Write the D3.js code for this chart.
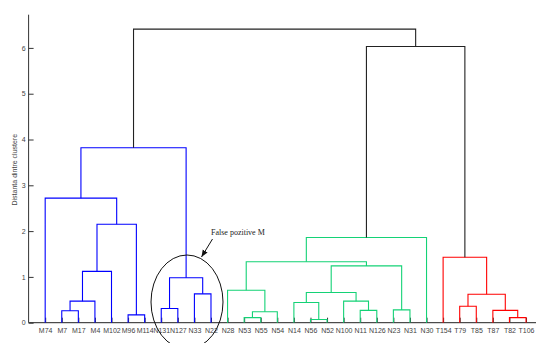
<!DOCTYPE html>
<html>
<head>
<meta charset="utf-8">
<script src="https://cdn.jsdelivr.net/npm/d3@7"></script>
<style>
  html, body { margin: 0; padding: 0; background: #fff; }
  svg { display: block; }
</style>
</head>
<body>
<svg id="chart" width="536" height="343"></svg>
<script>
// Leaf labels, in the order the dendrogram lays them out
const leaves = ["M74","M7","M17","M4","M102","M96","M114","N131","N127","N33","N22",
  "N28","N53","N55","N54","N14","N56","N52","N100","N11","N126","N23","N31","N30",
  "T154","T79","T85","T87","T82","T106"];

// Linkage: each merge joins two nodes (leaf index < 30, else 30 + merge index)
const mergeLeft  = [1, 30, 31, 5, 32, 0, 7, 9, 36, 35, 12, 40, 11, 16, 15, 19, 18, 44, 21, 47, 42, 50, 28, 27, 25, 54, 24, 51, 39];
const mergeRight = [2, 3, 4, 6, 33, 34, 8, 10, 37, 38, 13, 14, 41, 17, 43, 20, 45, 46, 22, 48, 49, 23, 29, 52, 26, 53, 55, 56, 57];
const mergeHeight = [0.26, 0.47, 1.12, 0.17, 2.15, 2.72, 0.31, 0.63, 0.98, 3.82,
  0.11, 0.24, 0.71, 0.07, 0.44, 0.27, 0.47, 0.66, 0.28, 1.24, 1.33, 1.86,
  0.11, 0.27, 0.36, 0.62, 1.43, 6.03, 6.41];

const yTicks = [0, 1, 2, 3, 4, 5, 6];
const clusterColors = ["#0000ff", "#14d276", "#ff0000"];
const colorThreshold = 4.5;
const yLabel = "Distanta dintre clustere";
const noteText = "False pozitive M";

const sans = "'Liberation Sans', Arial, Helvetica, sans-serif";
const serif = "'Liberation Serif', 'Times New Roman', serif";

const svg = d3.select("#chart");
const n = leaves.length;

const x = d3.scaleLinear().domain([0, n + 1]).range([28.6, 542.6]);
const y = d3.scaleLinear().domain([0, 6.725]).range([322.7, 14.7]);

// node positions
const nodeX = [], nodeY = [];
leaves.forEach((d, i) => { nodeX[i] = x(i + 1); nodeY[i] = 0; });
mergeHeight.forEach((h, k) => {
  const id = n + k;
  nodeX[id] = (nodeX[mergeLeft[k]] + nodeX[mergeRight[k]]) / 2;
  nodeY[id] = h;
});

// colour each merge by its cluster root below the threshold
const parent = {};
mergeHeight.forEach((h, k) => { parent[mergeLeft[k]] = n + k; parent[mergeRight[k]] = n + k; });
const roots = [];
mergeHeight.forEach((h, k) => {
  const id = n + k;
  const p = parent[id];
  if (h < colorThreshold && p !== undefined && mergeHeight[p - n] >= colorThreshold) roots.push(id);
});
roots.sort((a, b) => nodeX[a] - nodeX[b]);
const mergeColor = mergeHeight.map((h, k) => {
  let id = n + k;
  if (h >= colorThreshold) return "#222";
  while (!roots.includes(id)) id = parent[id];
  return clusterColors[roots.indexOf(id)];
});

const g = svg.append("g");

// axes
const yAxis = d3.axisLeft(y).tickValues(yTicks).tickSize(-5).tickPadding(3).tickFormat(d3.format("d"));
const ya = svg.append("g").attr("transform", `translate(${x(0)},0)`).call(yAxis);
ya.attr("font-family", sans);
ya.select(".domain").attr("d", `M0,${y(0)}V${y.range()[1]}`).attr("stroke", "#333");
ya.selectAll(".tick line").attr("stroke", "#333");
ya.selectAll(".tick text").attr("font-family", sans).attr("font-size", 7).attr("fill", "#444");

const xAxis = d3.axisBottom(x).tickValues(d3.range(1, n + 1)).tickSize(-5).tickPadding(5)
  .tickFormat(d => leaves[d - 1]);
const xa = svg.append("g").attr("transform", `translate(0,${y(0)})`).call(xAxis);
xa.attr("font-family", sans);
xa.select(".domain").attr("d", `M${x(0)},0H${x(n + 1)}`).attr("stroke", "#222");
xa.selectAll(".tick line").attr("stroke", "#333");
xa.selectAll(".tick text").attr("font-family", sans).attr("font-size", 7).attr("fill", "#444");

// dendrogram links (U shapes)
g.selectAll("path.link")
  .data(mergeHeight.map((h, k) => k))
  .join("path")
  .attr("class", "link")
  .attr("fill", "none")
  .attr("stroke", k => mergeColor[k])
  .attr("stroke-width", 1.1)
  .attr("d", k => {
    const a = mergeLeft[k], b = mergeRight[k];
    return `M${nodeX[a]},${y(nodeY[a])}V${y(mergeHeight[k])}H${nodeX[b]}V${y(nodeY[b])}`;
  });
g.raise();
xa.selectAll(".tick line").raise();

// axis title
svg.append("text")
  .attr("transform", `translate(17,${(y(0) + y.range()[1]) / 2 + 1}) rotate(-90)`)
  .attr("text-anchor", "middle")
  .attr("font-family", sans)
  .attr("font-size", 7)
  .attr("fill", "#444")
  .text(yLabel);

// annotation: ellipse around the misclassified group, arrow and note
svg.append("ellipse")
  .attr("cx", 187).attr("cy", 302).attr("rx", 36).attr("ry", 47)
  .attr("fill", "none").attr("stroke", "#111").attr("stroke-width", 1);

svg.append("defs").append("marker")
  .attr("id", "head").attr("viewBox", "0 0 10 10").attr("refX", 10).attr("refY", 5)
  .attr("markerWidth", 7).attr("markerHeight", 7).attr("orient", "auto")
  .append("path").attr("d", "M0,1L10,5L0,9z").attr("fill", "#111");

svg.append("line")
  .attr("x1", 212.5).attr("y1", 239).attr("x2", 201.5).attr("y2", 257)
  .attr("stroke", "#111").attr("stroke-width", 1).attr("marker-end", "url(#head)");

svg.append("text")
  .attr("x", 211).attr("y", 235)
  .attr("font-family", serif)
  .attr("font-size", 8)
  .attr("fill", "#222")
  .text(noteText);
</script>
</body>
</html>
